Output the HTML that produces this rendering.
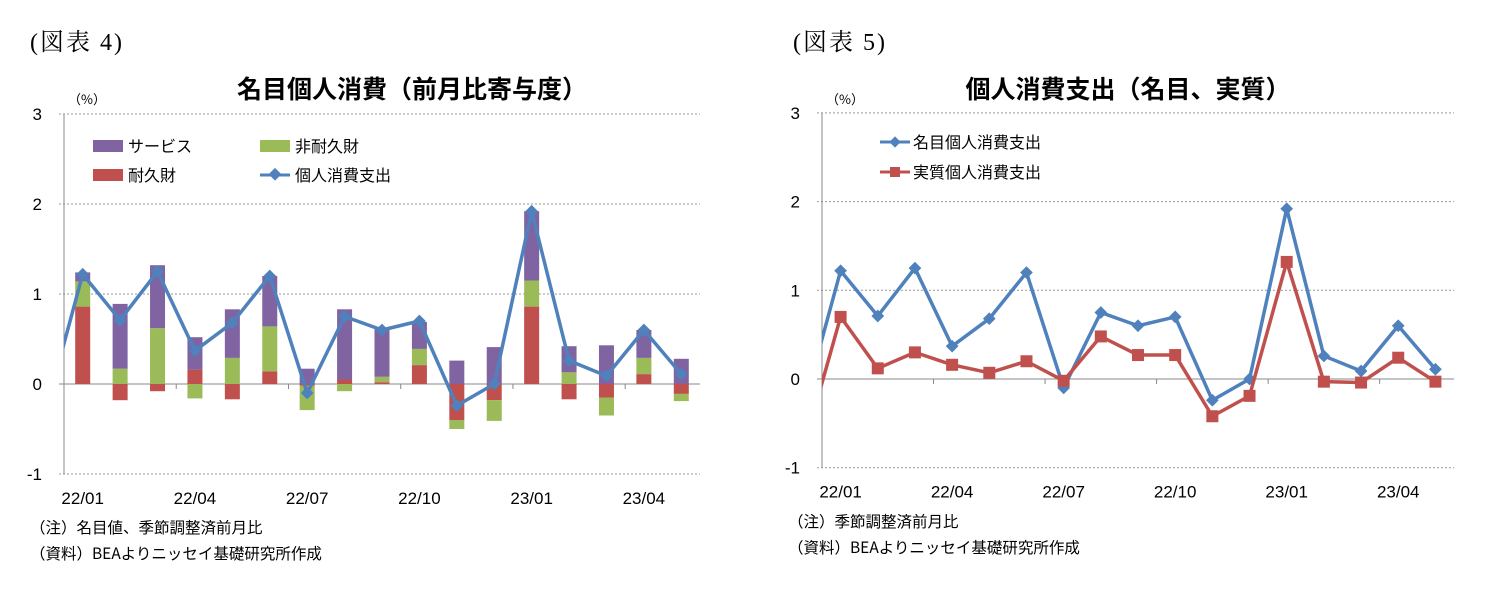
<!DOCTYPE html>
<html><head><meta charset="utf-8">
<style>
html,body{margin:0;padding:0;background:#fff;width:1488px;height:592px;overflow:hidden}
svg{display:block}
text{font-family:"Liberation Sans","Noto Sans CJK JP",sans-serif;fill:#000}
.ser{font-family:"Liberation Serif","Noto Serif CJK SC",serif}
.cjk{font-family:"Noto Sans CJK JP",sans-serif}
</style></head>
<body>
<svg id="svg" width="1488" height="592" viewBox="0 0 1488 592" xmlns="http://www.w3.org/2000/svg">
<text class="ser" x="30" y="50" font-size="24" letter-spacing="2">(図表 4)</text>
<text class="ser" x="793" y="50" font-size="24" letter-spacing="2">(図表 5)</text>
<text class="cjk" x="412" y="98" font-size="25" font-weight="bold" text-anchor="middle">名目個人消費（前月比寄与度）</text>
<text class="cjk" x="1128" y="98" font-size="25" font-weight="bold" text-anchor="middle">個人消費支出（名目、実質）</text>
<text class="cjk" x="68" y="104" font-size="13">（%）</text>
<text class="cjk" x="826" y="104" font-size="13">（%）</text>
<g id="left"></g>
<g id="right"></g>
<g>
<rect x="93" y="140" width="30" height="12" fill="#8064a2"/>
<text x="128" y="152" font-size="16">サービス</text>
<rect x="260" y="140" width="30" height="12" fill="#9bbb59"/>
<text x="295" y="152" font-size="16">非耐久財</text>
<rect x="93" y="169" width="30" height="12" fill="#c0504d"/>
<text x="128" y="181" font-size="16">耐久財</text>
<line x1="260" y1="175" x2="290" y2="175" stroke="#4f81bd" stroke-width="3"/>
<rect x="270" y="170" width="9" height="9" fill="#4f81bd" transform="rotate(45 275 175)"/>
<text x="295" y="181" font-size="16">個人消費支出</text>
</g>
<g>
<line x1="880" y1="142" x2="910" y2="142" stroke="#4f81bd" stroke-width="3"/>
<rect x="891" y="138" width="8" height="8" fill="#4f81bd" transform="rotate(45 895 142)"/>
<text x="913" y="148" font-size="16">名目個人消費支出</text>
<line x1="880" y1="172" x2="910" y2="172" stroke="#c0504d" stroke-width="3"/>
<rect x="890" y="167" width="10" height="10" fill="#c0504d"/>
<text x="913" y="178" font-size="16">実質個人消費支出</text>
</g>
<text class="cjk" x="30" y="533" font-size="15.5">（注）名目値、季節調整済前月比</text>
<text class="cjk" x="30" y="559" font-size="15.5">（資料）BEAよりニッセイ基礎研究所作成</text>
<text class="cjk" x="788" y="527" font-size="15.5">（注）季節調整済前月比</text>
<text class="cjk" x="788" y="553" font-size="15.5">（資料）BEAよりニッセイ基礎研究所作成</text>
</svg>
<script>
const categories=["22/01","22/02","22/03","22/04","22/05","22/06","22/07","22/08","22/09","22/10","22/11","22/12","23/01","23/02","23/03","23/04","23/05"];
const tickLabels=["22/01","22/04","22/07","22/10","23/01","23/04"];
const yTicks=[3,2,1,0,-1];
const durable=[0.86,-0.18,-0.08,0.16,-0.17,0.14,-0.02,0.05,0.02,0.21,-0.40,-0.18,0.86,-0.17,-0.15,0.11,-0.11];
const nondurable=[0.28,0.17,0.62,-0.16,0.29,0.50,-0.27,-0.08,0.06,0.18,-0.10,-0.23,0.29,0.13,-0.20,0.18,-0.08];
const services=[0.10,0.72,0.70,0.36,0.54,0.56,0.17,0.78,0.53,0.30,0.26,0.41,0.77,0.29,0.43,0.31,0.28];
const nominal=[1.22,0.71,1.25,0.37,0.68,1.20,-0.10,0.75,0.60,0.70,-0.24,0.00,1.92,0.26,0.09,0.60,0.11];
const real=[0.70,0.12,0.30,0.16,0.07,0.20,-0.02,0.48,0.27,0.27,-0.42,-0.19,1.32,-0.03,-0.04,0.24,-0.03];
const prevNominal=-0.32, prevReal=-0.79;
const NS="http://www.w3.org/2000/svg";
function mk(p,t,a){const e=document.createElementNS(NS,t);for(const k in a)e.setAttribute(k,a[k]);p.appendChild(e);return e;}
function chart(g,L,R,y0,yPer,clipId){
  const n=categories.length, step=(R-L)/n;
  const x=i=>L+step*(i+0.5);
  const y=v=>y0-v*yPer;
  const top=y(3),bot=y(-1);
  yTicks.forEach(t=>{
    const gl=mk(g,'line',{x1:L-5,x2:R,y1:y(t),y2:y(t),stroke:t===0?'#888':'#999','stroke-width':1,'stroke-dasharray':t===0?'':'2,2'});
    
    
    const tl=mk(g,'text',{x:L-22,y:y(t)+6,'font-size':17,'text-anchor':'end'});tl.textContent=t;
    
    
  });
  const ax=mk(g,'line',{x1:L,x2:L,y1:top,y2:bot,stroke:'#888'});
  
  
  const xa=mk(g,'line',{x1:L,x2:R,y1:y(0),y2:y(0),stroke:'#888'});
  
  
  for(let i=3;i<n;i+=3){const tk=mk(g,'line',{x1:L+step*i,x2:L+step*i,y1:y(0),y2:y(0)+5,stroke:'#888'});
    
    }
  categories.forEach((c,i)=>{ if(tickLabels.includes(c)){
    const t=mk(g,'text',{x:x(i),y:bot+30,'font-size':17,'text-anchor':'middle'});t.textContent=c;
    
    }});
  const cp=mk(g,'clipPath',{id:clipId});mk(cp,'rect',{x:L,y:top-20,width:R-L+10,height:bot-top+40});
  return {x,y,step};
}
const lg=document.getElementById('left');
const A=chart(lg,64,700,384,90,'clipL');
const bw=15;
categories.forEach((c,i)=>{
  let pos=0,neg=0;
  [[durable,'#c0504d','bar-durable'],[nondurable,'#9bbb59','bar-nondurable'],[services,'#8064a2','bar-services']].forEach(([arr,col,nm])=>{
    const v=arr[i];let y1,y2;
    if(v>=0){y1=A.y(pos+v);y2=A.y(pos);pos+=v;}else{y1=A.y(neg);y2=A.y(neg+v);neg+=v;}
    const r=mk(lg,'rect',{x:A.x(i)-bw/2,y:y1,width:bw,height:Math.max(0,y2-y1),fill:col});
    
    
  });
});
function line(g,C,arr,prev,col,nm,marker,clip){
  const pts=[[C.x(-1),C.y(prev)]].concat(arr.map((v,i)=>[C.x(i),C.y(v)]));
  const pl=mk(g,'polyline',{points:pts.map(p=>p.join(',')).join(' '),fill:'none',stroke:col,'stroke-width':3.5,'stroke-linejoin':'round','clip-path':'url(#'+clip+')'});
  
  
  arr.forEach((v,i)=>{
    const cx=C.x(i),cy=C.y(v);let m;
    if(marker==='d'){m=mk(g,'rect',{x:cx-4.5,y:cy-4.5,width:9,height:9,fill:col,transform:`rotate(45 ${cx} ${cy})`});}
    else{m=mk(g,'rect',{x:cx-6,y:cy-6,width:12,height:12,fill:col});}
    
    
  });
}
line(lg,A,nominal,prevNominal,'#4f81bd','pce','d','clipL');
const rg=document.getElementById('right');
const B=chart(rg,822,1454,379,88.7,'clipR');
line(rg,B,nominal,prevNominal,'#4f81bd','nominal-pce','d','clipR');
line(rg,B,real,prevReal,'#c0504d','real-pce','s','clipR');
</script>
</body></html>
